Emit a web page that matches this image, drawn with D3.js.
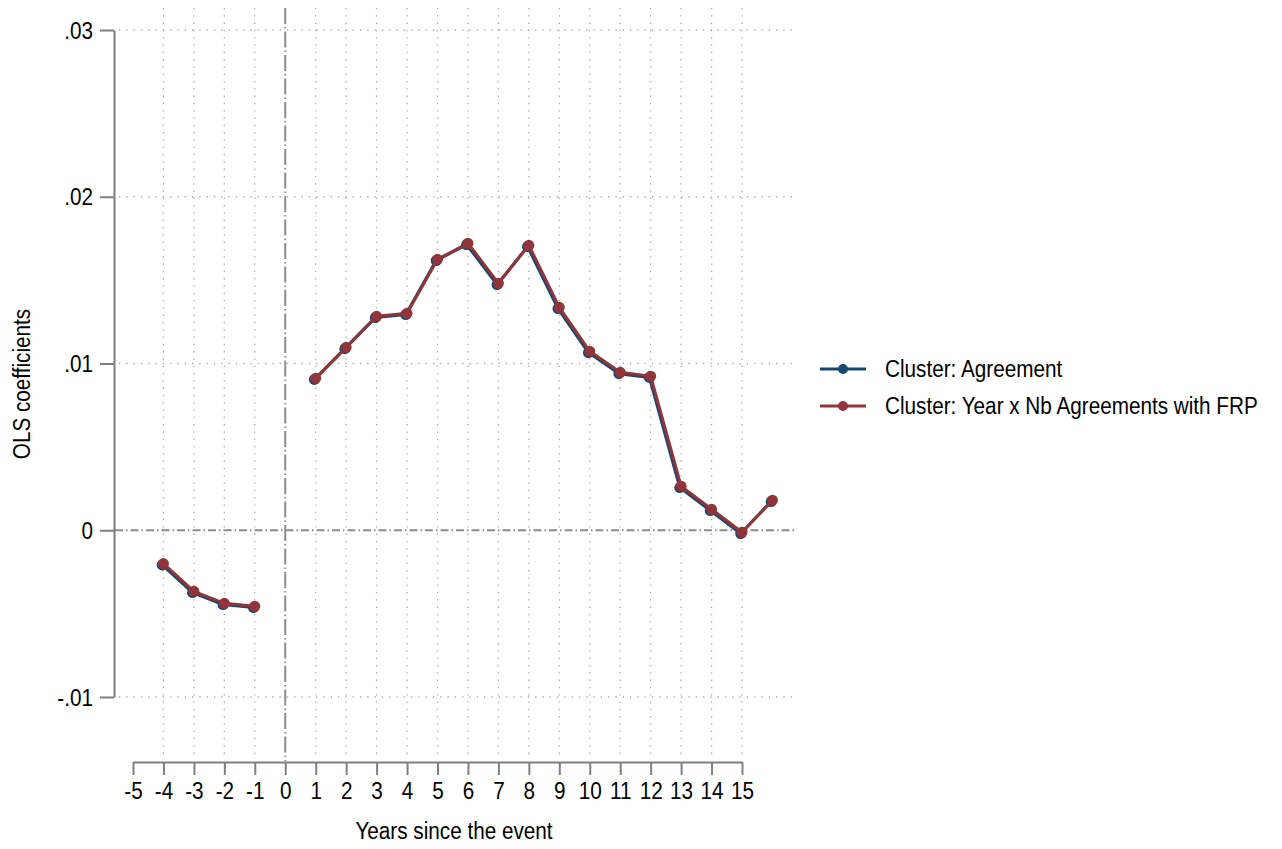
<!DOCTYPE html>
<html>
<head>
<meta charset="utf-8">
<script src="https://cdn.jsdelivr.net/npm/d3@7"></script>
<style>
  html, body { margin: 0; padding: 0; background: #fff; }
  svg { display: block; }
  text { font-family: "Liberation Sans", Arial, sans-serif; fill: #000; }
</style>
</head>
<body>
<svg id="chart" width="1282" height="849"></svg>
<script>
// Event-study coefficients by year relative to the event
const years = [-4, -3, -2, -1, 1, 2, 3, 4, 5, 6, 7, 8, 9, 10, 11, 12, 13, 14, 15, 16];
const coefAgreement = [-0.0020, -0.00366, -0.00438, -0.00456,
  0.00912, 0.01097, 0.01283, 0.01301, 0.01625, 0.01721, 0.01481, 0.01709,
  0.01337, 0.01073, 0.00947, 0.00924, 0.00264, 0.00126, -0.00012, 0.00180];
const coefYearFRP = coefAgreement.slice();
const xTicks = d3.range(-5, 16);
const xTickLabels = xTicks.map(String);
const yTicks = [-0.01, 0, 0.01, 0.02, 0.03];
const yTickLabels = ["-.01", "0", ".01", ".02", ".03"];
const seriesNames = ["Cluster: Agreement", "Cluster: Year x Nb Agreements with FRP"];
const seriesColors = ["#1a476f", "#90353b"];

const svg = d3.select("#chart");
const x = d3.scaleLinear().domain([-5, 15]).range([133, 742]);
const y = d3.scaleLinear().domain([-0.01, 0.03]).range([697, 30]);
const plotLeft = 115, plotRight = 795, plotTop = 8, plotBottom = 757;
const fontSize = 23;
const narrow = 0.9; // horizontal condensing of all labels

// condense a text selection horizontally while keeping its anchor
function condense(sel) {
  sel.each(function () {
    const w = this.getComputedTextLength();
    if (w > 0) {
      d3.select(this).attr("textLength", w * narrow).attr("lengthAdjust", "spacingAndGlyphs");
    }
  });
}

// dotted grid
const grid = svg.append("g");
grid.selectAll("line.h").data(yTicks.filter(v => v !== 0)).join("line")
  .attr("x1", plotLeft + 4).attr("x2", plotRight)
  .attr("y1", d => y(d)).attr("y2", d => y(d))
  .attr("stroke", "#a8a8a8").attr("stroke-width", 1.3)
  .attr("stroke-dasharray", "1.3,6");
grid.selectAll("line.v").data(xTicks.filter(v => v !== 0 && v !== -5)).join("line")
  .attr("x1", d => x(d)).attr("x2", d => x(d))
  .attr("y1", plotTop).attr("y2", plotBottom)
  .attr("stroke", "#a8a8a8").attr("stroke-width", 1.3)
  .attr("stroke-dasharray", "1.3,6");

// reference lines at zero
svg.append("line")
  .attr("x1", plotLeft).attr("x2", plotRight)
  .attr("y1", y(0)).attr("y2", y(0))
  .attr("stroke", "#8c8c8c").attr("stroke-width", 2)
  .attr("stroke-dasharray", "8,3,1.5,3");
svg.append("line")
  .attr("x1", x(0)).attr("x2", x(0))
  .attr("y1", plotTop).attr("y2", 761)
  .attr("stroke", "#8c8c8c").attr("stroke-width", 2)
  .attr("stroke-dasharray", "16,3,1.5,3");

// y axis
const yAxis = d3.axisLeft(y).tickValues(yTicks)
  .tickFormat((d, i) => yTickLabels[i]).tickSize(14).tickPadding(7).tickSizeOuter(0);
const gy = svg.append("g").attr("transform", "translate(114,0)").call(yAxis);
gy.select(".domain").attr("stroke", "#7f7f7f").attr("stroke-width", 2);
gy.selectAll(".tick line").attr("stroke", "#7f7f7f").attr("stroke-width", 2);
gy.selectAll(".tick text").attr("font-size", fontSize).attr("dy", "0.35em")
  .style("font-family", "'Liberation Sans', Arial, sans-serif").call(condense);

// x axis
const xAxis = d3.axisBottom(x).tickValues(xTicks)
  .tickFormat((d, i) => xTickLabels[i]).tickSize(13).tickPadding(8).tickSizeOuter(0);
const gx = svg.append("g").attr("transform", "translate(0,762)").call(xAxis);
gx.select(".domain").attr("stroke", "#7f7f7f").attr("stroke-width", 2);
gx.selectAll(".tick line").attr("stroke", "#7f7f7f").attr("stroke-width", 2);
gx.selectAll(".tick text").attr("font-size", fontSize)
  .style("font-family", "'Liberation Sans', Arial, sans-serif").call(condense);

// axis titles
svg.append("text").attr("x", 454).attr("y", 839)
  .attr("text-anchor", "middle").attr("font-size", fontSize).text("Years since the event").call(condense);
svg.append("text").attr("transform", "translate(30,384) rotate(-90)")
  .attr("text-anchor", "middle").attr("font-size", fontSize).text("OLS coefficients").call(condense);

// series: segments broken at the omitted year 0
const series = [coefAgreement, coefYearFRP];
const line = d3.line()
  .defined(d => d.x !== 0)
  .x(d => x(d.x)).y(d => y(d.v));
series.forEach((vals, si) => {
  const pts = years.map((yr, i) => ({ x: yr, v: vals[i] }));
  const withGap = [];
  pts.forEach((p, i) => {
    if (i > 0 && p.x - pts[i - 1].x > 1) withGap.push({ x: 0, v: 0 });
    withGap.push(p);
  });
  const g = svg.append("g")
    .attr("transform", si === 0 ? "translate(-1.3,1.3)" : null);
  g.append("path").datum(withGap).attr("d", line)
    .attr("fill", "none").attr("stroke", seriesColors[si])
    .attr("stroke-width", 3).attr("stroke-linejoin", "round");
  g.selectAll("circle").data(pts).join("circle")
    .attr("cx", d => x(d.x)).attr("cy", d => y(d.v)).attr("r", 5.5)
    .attr("fill", seriesColors[si]);
});

// legend
const legend = svg.append("g");
seriesNames.forEach((name, i) => {
  const ly = 369 + i * 37;
  legend.append("line").attr("x1", 820).attr("x2", 866).attr("y1", ly).attr("y2", ly)
    .attr("stroke", seriesColors[i]).attr("stroke-width", 3);
  legend.append("circle").attr("cx", 843).attr("cy", ly).attr("r", 5).attr("fill", seriesColors[i]);
  legend.append("text").attr("x", 885).attr("y", ly).attr("dy", "0.35em")
    .attr("font-size", fontSize).text(name).call(condense);
});
</script>
</body>
</html>
